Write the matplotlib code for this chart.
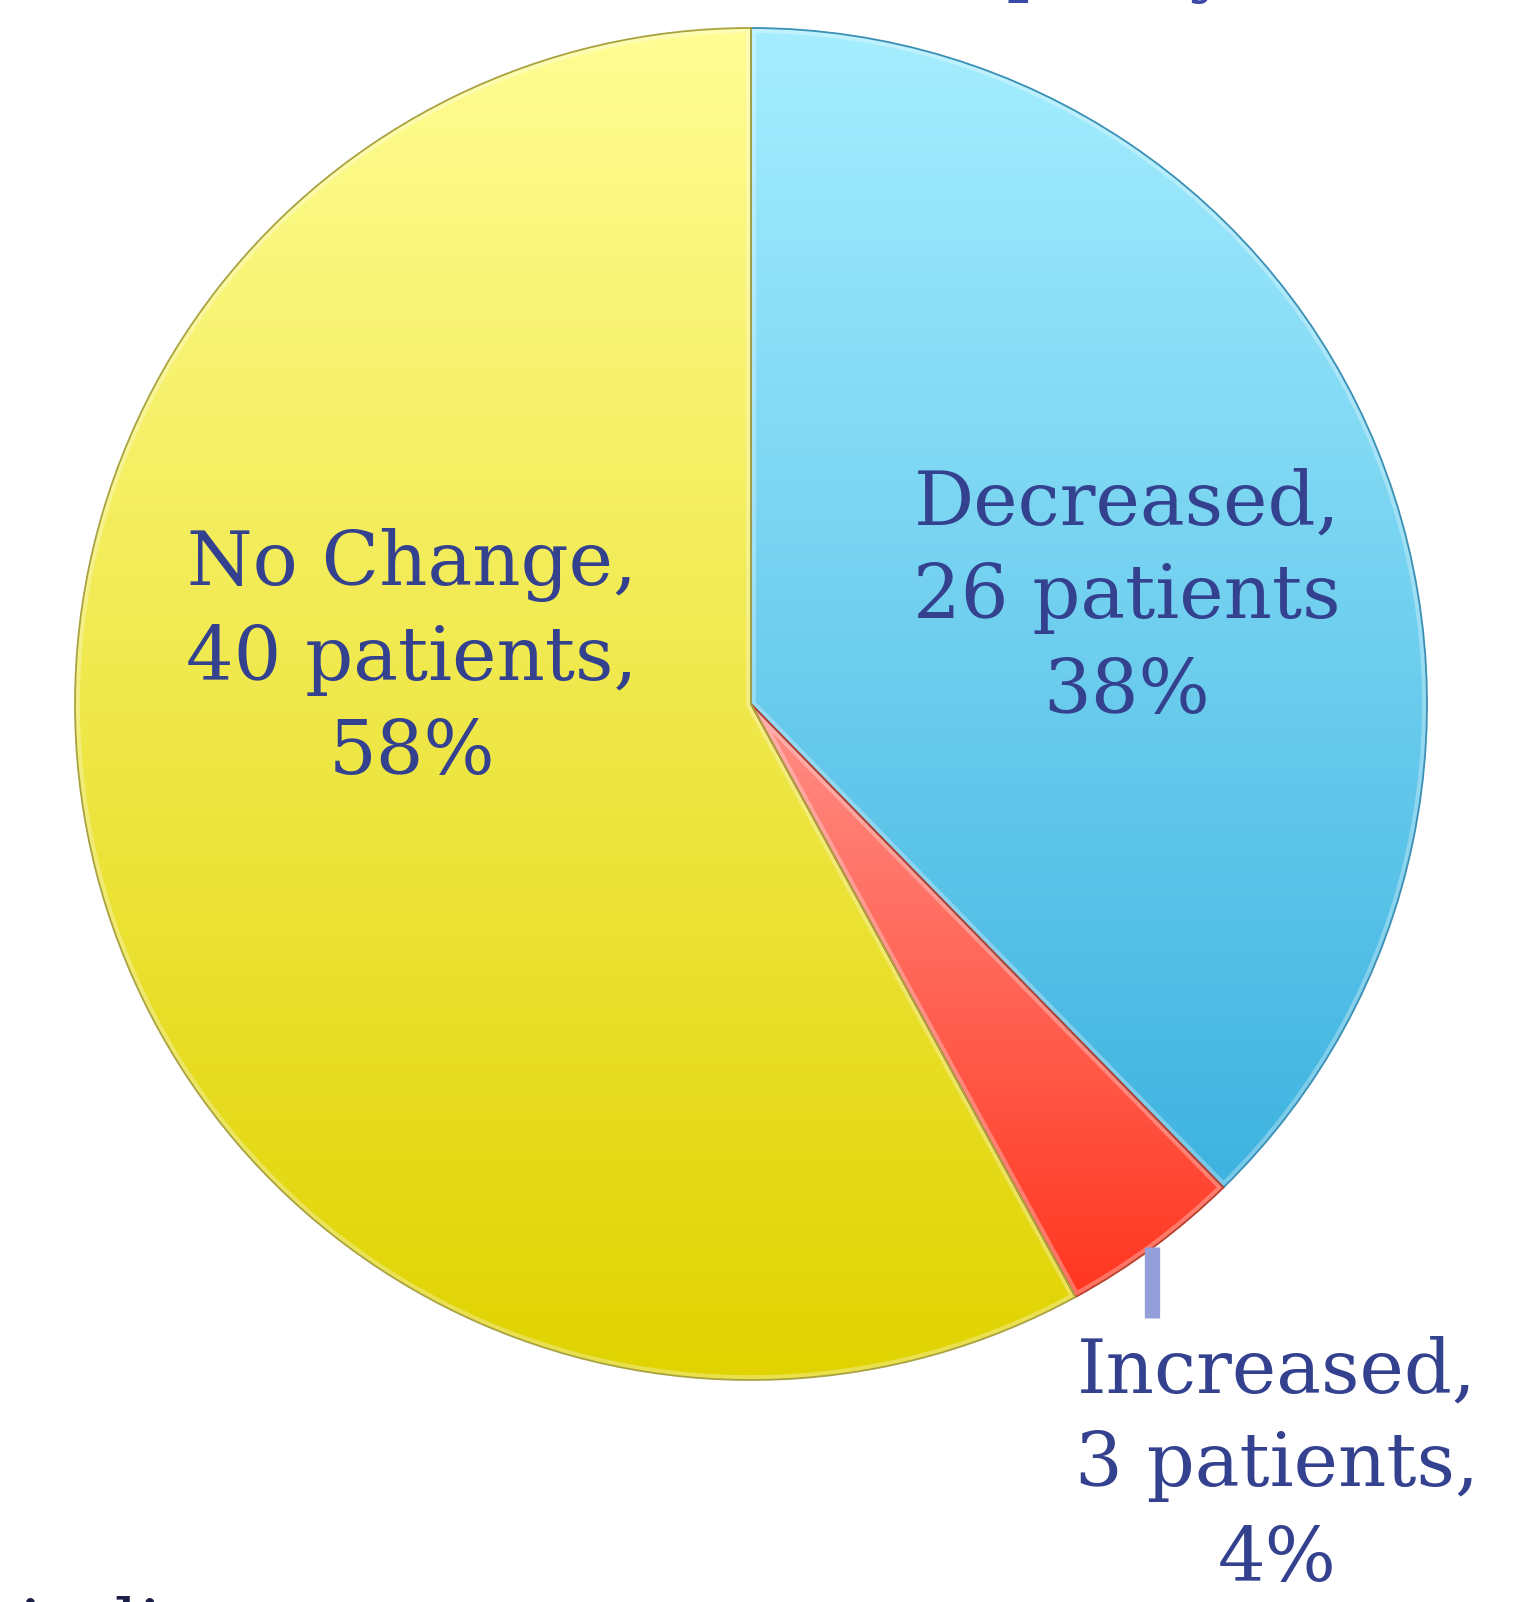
import matplotlib
matplotlib.use('Agg')
import matplotlib.pyplot as plt
import numpy as np
from matplotlib.colors import LinearSegmentedColormap
from matplotlib.patches import Wedge

# pie data
categories = ['Decreased', 'Increased', 'No Change']
patients = [26, 3, 40]
trailing = ['', ',', ',']   # comma after "patients" as on the slide

# colours (top / bottom of each wedge's gradient)
top_colors = ['#a6eeff', '#ff8e87', '#fffd94']
bottom_colors = ['#3eb3e0', '#ff361f', '#e0d300']
edge_colors = ['#3a8fb5', '#b8402e', '#a9a240']

text_color = '#33418f'

fig = plt.figure(figsize=(15.14, 16.02), dpi=100)
ax = fig.add_axes([0, 0, 1, 1])

total = sum(patients)
wedges, _ = ax.pie(patients, startangle=90, counterclock=False,
                   center=(751, 898), radius=676,
                   wedgeprops=dict(linewidth=1.3))

grad = np.linspace(0, 1, 256).reshape(-1, 1)
for i, w in enumerate(wedges):
    verts = w.get_path().vertices
    x0, x1 = verts[:, 0].min(), verts[:, 0].max()
    y0, y1 = verts[:, 1].min(), verts[:, 1].max()
    cmap = LinearSegmentedColormap.from_list('g%d' % i, [bottom_colors[i], top_colors[i]])
    im = ax.imshow(grad, extent=(x0, x1, y0, y1), origin='lower', cmap=cmap,
                   aspect='auto', zorder=1)
    im.set_clip_path(w)
    w.set_facecolor('none')
    w.set_edgecolor(edge_colors[i])
    w.set_zorder(3)
    # soft bevel highlight just inside the edge
    bevel = Wedge(w.center, w.r, w.theta1, w.theta2, facecolor='none',
                  edgecolor='white', lw=7, alpha=0.3, zorder=2)
    ax.add_patch(bevel)
    bevel.set_clip_path(w)

# labels
label_pos = [(1127, 1004), (1277, 136), (412, 943)]
for i, cat in enumerate(categories):
    pct = round(patients[i] / total * 100)
    txt = '%s,\n%d patients%s\n%d%%' % (cat, patients[i], trailing[i], pct)
    ax.text(label_pos[i][0], label_pos[i][1], txt, ha='center', va='center',
            fontsize=54, family='DejaVu Serif', color=text_color,
            linespacing=1.37, zorder=4)

# leader line for the small slice
ax.plot([1152, 1152], [1602 - 1247, 1602 - 1318], color='#949ed8', lw=11,
        solid_capstyle='butt', zorder=4)

# slide text cut off at the edges
ax.text(1232, 1615, 'Outcome, policy', ha='right', va='baseline',
        fontsize=54, family='DejaVu Serif', color='#3a48a8')
ax.text(18, -51, 'indicates', ha='left', va='baseline',
        fontsize=54, family='DejaVu Serif', color='#1b1f48')

ax.set_xlim(0, 1514)
ax.set_ylim(0, 1602)
ax.set_aspect('equal')
ax.axis('off')

plt.savefig('out.png', dpi=100)
